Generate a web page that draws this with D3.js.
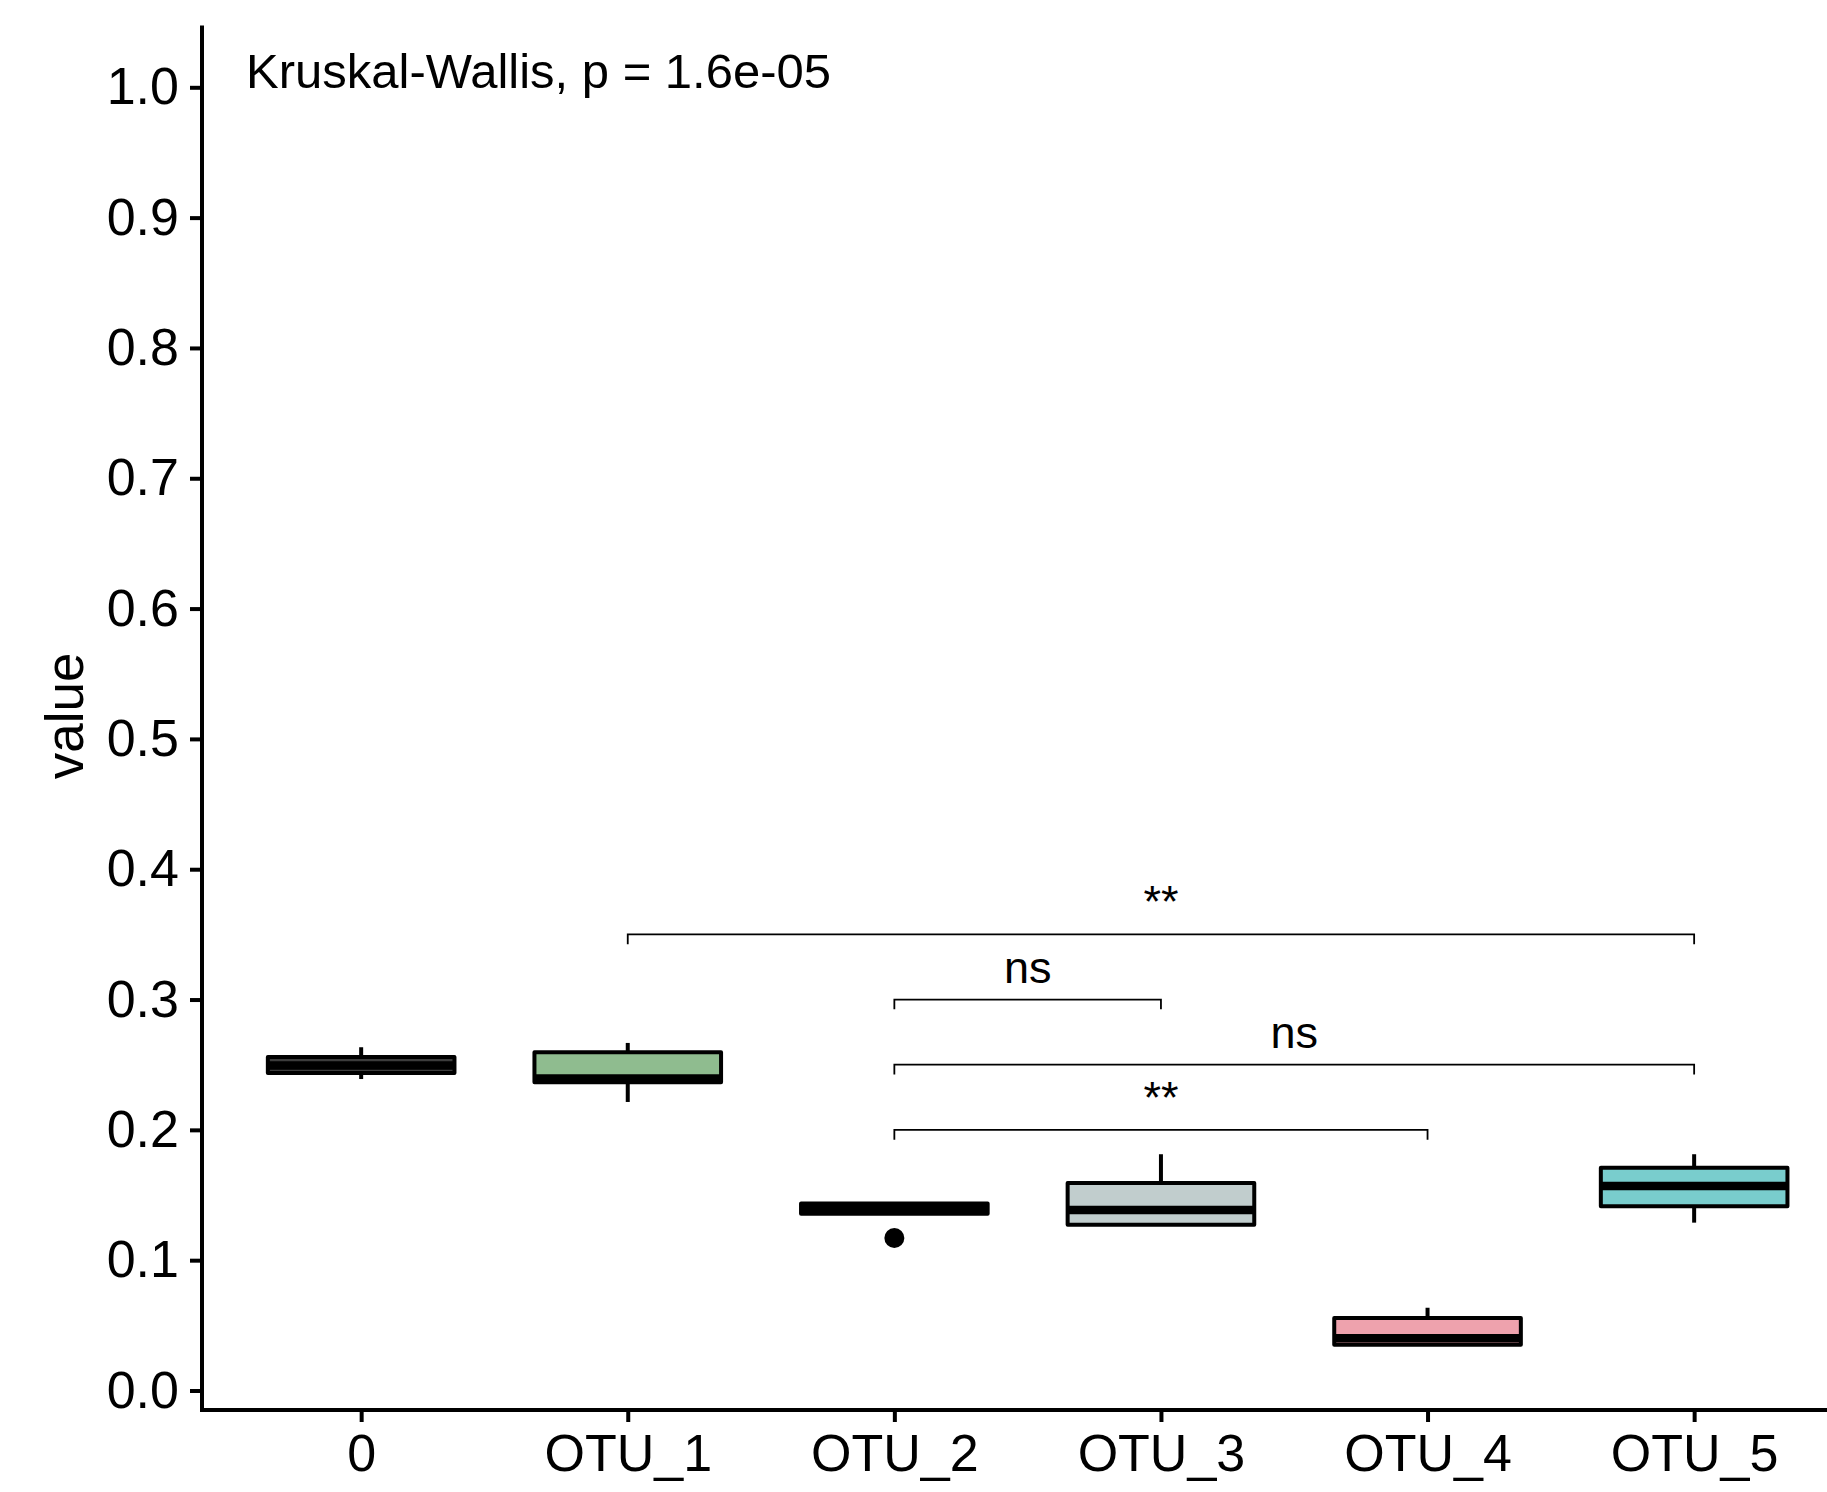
<!DOCTYPE html>
<html>
<head>
<meta charset="utf-8">
<script src="https://cdn.jsdelivr.net/npm/d3@7"></script>
<style>
  html, body { margin: 0; padding: 0; background: #ffffff; }
  svg { display: block; font-family: "Liberation Sans", Arial, sans-serif; }
</style>
</head>
<body>
<svg id="chart" width="1827" height="1492"></svg>
<script>
// Groups on the x axis and their box fills
const categories = ["0", "OTU_1", "OTU_2", "OTU_3", "OTU_4", "OTU_5"];
const fills      = ["#3d3d3d", "#8fbc8f", "#111111", "#c1cdcd", "#eea2ad", "#79cdcd"];

// Five-number summaries per group
const whiskerLow  = [0.239, 0.2214, 0.1357, 0.1272, 0.0352, 0.1288];
const quartile1   = [0.2437, 0.2365, 0.1357, 0.1272, 0.0352, 0.1414];
const medians     = [0.2494, 0.2395, 0.1393, 0.1385, 0.0400, 0.1570];
const quartile3   = [0.2560, 0.2595, 0.1434, 0.1592, 0.0556, 0.1710];
const whiskerHigh = [0.2634, 0.2667, 0.1434, 0.1813, 0.0635, 0.1813];

// Outlying points: [group, value]
const outliers = [["OTU_2", 0.117]];

// Pairwise comparison brackets: [from, to, y, label]
const comparisons = [
  ["OTU_1", "OTU_5", 0.35, "**"],
  ["OTU_2", "OTU_3", 0.30, "ns"],
  ["OTU_2", "OTU_5", 0.25, "ns"],
  ["OTU_2", "OTU_4", 0.20, "**"]
];

const yTicks = [0.0, 0.1, 0.2, 0.3, 0.4, 0.5, 0.6, 0.7, 0.8, 0.9, 1.0];
const globalTest = "Kruskal-Wallis, p = 1.6e-05";
const yTitle = "value";

const svg = d3.select("#chart");

const panel = { left: 202, bottom: 1410, top: 25.6 };

const x = d3.scalePoint()
  .domain(categories)
  .range([201.2, 1854.1])
  .padding(0.6);

const y = d3.scaleLinear()
  .domain([0, 1])
  .range([1390.5, 87.3]);

const step = x.step();
const boxW = step * 0.7;

// Boxes
const g = svg.append("g");
categories.forEach((c, i) => {
  const cx = x(c);
  const grp = g.append("g");
  // upper whisker
  grp.append("line")
    .attr("x1", cx).attr("x2", cx)
    .attr("y1", y(quartile3[i])).attr("y2", y(whiskerHigh[i]))
    .attr("stroke", "#000").attr("stroke-width", 4);
  // lower whisker
  grp.append("line")
    .attr("x1", cx).attr("x2", cx)
    .attr("y1", y(quartile1[i])).attr("y2", y(whiskerLow[i]))
    .attr("stroke", "#000").attr("stroke-width", 4);
  // box
  grp.append("rect")
    .attr("x", cx - boxW / 2)
    .attr("y", y(quartile3[i]))
    .attr("width", boxW)
    .attr("height", Math.max(0.01, y(quartile1[i]) - y(quartile3[i])))
    .attr("fill", fills[i])
    .attr("stroke", "#000")
    .attr("stroke-width", 4)
    .attr("stroke-linejoin", "round");
  // median
  grp.append("line")
    .attr("x1", cx - boxW / 2).attr("x2", cx + boxW / 2)
    .attr("y1", y(medians[i])).attr("y2", y(medians[i]))
    .attr("stroke", "#000").attr("stroke-width", 8.5);
});

// Outliers
g.selectAll("circle.out")
  .data(outliers)
  .join("circle")
  .attr("class", "out")
  .attr("cx", d => x(d[0]))
  .attr("cy", d => y(d[1]))
  .attr("r", 10)
  .attr("fill", "#000");

// Comparison brackets
const tipLen = 0.0075;
const br = svg.append("g");
comparisons.forEach(([a, b, v, lab]) => {
  const x1 = x(a), x2 = x(b);
  br.append("path")
    .attr("d", `M${x1},${y(v - tipLen)}L${x1},${y(v)}L${x2},${y(v)}L${x2},${y(v - tipLen)}`)
    .attr("fill", "none")
    .attr("stroke", "#000")
    .attr("stroke-width", 1.8);
  br.append("text")
    .attr("x", (x1 + x2) / 2)
    .attr("y", y(v) - 17)
    .attr("text-anchor", "middle")
    .attr("font-size", 45)
    .attr("fill", "#000")
    .text(lab);
});

// Y axis
const yAxis = d3.axisLeft(y)
  .tickValues(yTicks)
  .tickFormat(d3.format(".1f"))
  .tickSize(12)
  .tickPadding(11)
  .tickSizeOuter(0);
const ya = svg.append("g")
  .attr("transform", `translate(${panel.left},0)`)
  .call(yAxis);
ya.select(".domain").remove();
ya.append("line")
  .attr("x1", 0).attr("x2", 0)
  .attr("y1", panel.top).attr("y2", panel.bottom + 2)
  .attr("stroke", "#000").attr("stroke-width", 4);
ya.selectAll(".tick line").attr("stroke", "#000").attr("stroke-width", 4);
ya.selectAll(".tick text")
  .attr("font-size", 52)
  .attr("fill", "#000")
  .attr("font-family", "Liberation Sans, Arial, sans-serif");

// X axis
const xAxis = d3.axisBottom(x)
  .tickSize(12)
  .tickPadding(6)
  .tickSizeOuter(0);
const xa = svg.append("g")
  .attr("transform", `translate(0,${panel.bottom})`)
  .call(xAxis);
xa.select(".domain").remove();
xa.append("line")
  .attr("x1", panel.left - 2).attr("x2", 1827)
  .attr("y1", 0).attr("y2", 0)
  .attr("stroke", "#000").attr("stroke-width", 4);
xa.selectAll(".tick line").attr("stroke", "#000").attr("stroke-width", 4);
xa.selectAll(".tick text")
  .attr("font-size", 52)
  .attr("fill", "#000")
  .attr("dy", null)
  .attr("y", 61)
  .attr("font-family", "Liberation Sans, Arial, sans-serif");

// Y title
svg.append("text")
  .attr("transform", `translate(83,716) rotate(-90)`)
  .attr("text-anchor", "middle")
  .attr("font-size", 53)
  .attr("fill", "#000")
  .text(yTitle);

// Global test annotation
svg.append("text")
  .attr("x", 246)
  .attr("y", 88)
  .attr("font-size", 49)
  .attr("fill", "#000")
  .text(globalTest);
</script>
</body>
</html>
